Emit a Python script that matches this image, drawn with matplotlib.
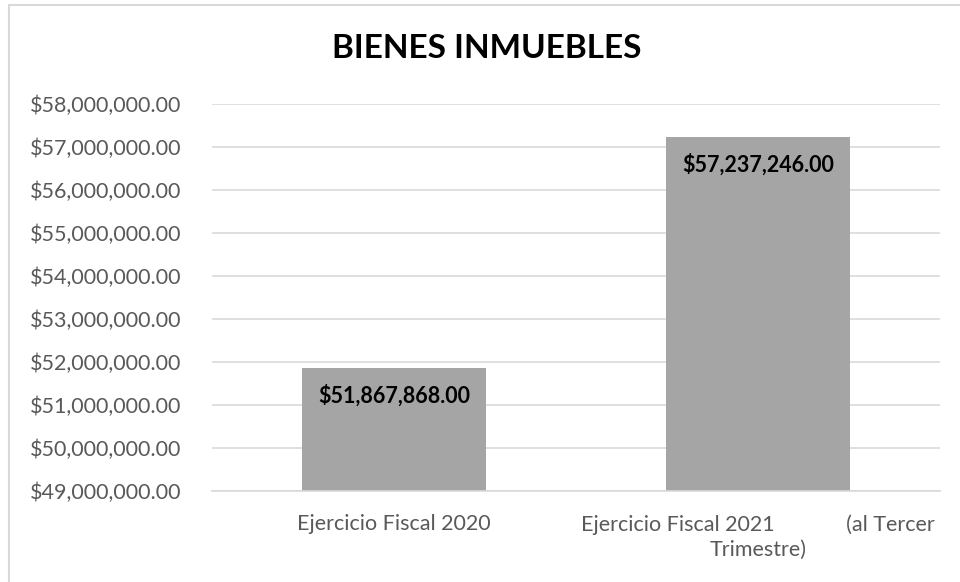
import matplotlib
matplotlib.use("Agg")
import matplotlib.pyplot as plt
from matplotlib.patches import Rectangle
from matplotlib.ticker import FuncFormatter

# Data
categories = [
    "Ejercicio Fiscal 2020",
    "Ejercicio Fiscal 2021             (al Tercer\nTrimestre)",
]
values = [51_867_868.00, 57_237_246.00]
y_ticks = [49e6, 50e6, 51e6, 52e6, 53e6, 54e6, 55e6, 56e6, 57e6, 58e6]
title = "BIENES INMUEBLES"

FONT = ["Lato", "DejaVu Sans"]
BAR_COLOR = "#a5a5a5"
GRID_COLOR = "#d9d9d9"
TEXT_GRAY = "#595959"

fig = plt.figure(figsize=(9.6, 5.82), dpi=100)
ax = fig.add_axes([212 / 960, 1 - 491 / 582, 728 / 960, 387 / 582])

# chart border (Excel style frame, partially cropped)
fig.patches.append(Rectangle((9 / 960, -0.1), 1.2, 1 - 5 / 582 + 0.1,
                             transform=fig.transFigure, fill=False,
                             edgecolor="#d9d9d9", lw=1.5))

x = list(range(len(categories)))
bars = ax.bar(x, values, width=0.505, color=BAR_COLOR, zorder=2)

ax.set_xlim(-0.5, len(categories) - 0.5)
ax.set_ylim(y_ticks[0], y_ticks[-1])
ax.set_yticks(y_ticks)
ax.yaxis.set_major_formatter(FuncFormatter(lambda v, _: f"${v:,.2f}"))
ax.set_xticks(x)
ax.set_xticklabels(categories, fontsize=15.5, color=TEXT_GRAY,
                   family=FONT, multialignment="center", linespacing=1.35)

for lbl in ax.get_yticklabels():
    lbl.set_fontsize(15.5)
    lbl.set_color(TEXT_GRAY)
    lbl.set_family(FONT)

ax.tick_params(axis="y", length=0, pad=22)
ax.tick_params(axis="x", length=0, pad=16.5)
ax.grid(axis="y", color=GRID_COLOR, lw=1.2, zorder=0)
ax.set_axisbelow(True)
for side in ["top", "right", "left"]:
    ax.spines[side].set_visible(False)
ax.spines["bottom"].set_color(GRID_COLOR)
ax.spines["bottom"].set_linewidth(1.2)

# value labels inside the top of each bar
for bar, val in zip(bars, values):
    ax.annotate(f"${val:,.2f}",
                xy=(bar.get_x() + bar.get_width() / 2, bar.get_height()),
                xytext=(0, -28), textcoords="offset pixels",
                ha="center", va="center", fontsize=15.5, fontweight="bold",
                family=FONT, color="black", zorder=3)

fig.text(487 / 960, 1 - 48 / 582, title, ha="center", va="center",
         fontsize=24, fontweight="bold", family=FONT, color="black")

fig.savefig("out.png", dpi=100)
